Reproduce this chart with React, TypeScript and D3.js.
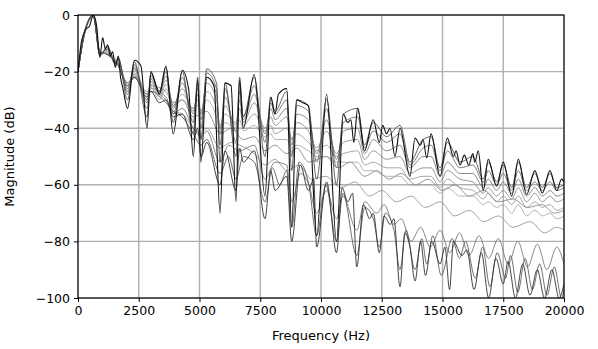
import React, { useEffect, useRef } from 'react';
import * as d3 from 'd3';

const xTicks = [0, 2500, 5000, 7500, 10000, 12500, 15000, 17500, 20000];
const yTicks = [0, -20, -40, -60, -80, -100];

// darkest spectrum, read peak by peak / notch by notch
const topLine = [
  [0, -20], [150, -9], [330, -5], [470, -4], [630, 0], [770, -4], [900, -15], [1015, -8], [1125, -12],
  [1220, -10.5], [1330, -14.5], [1425, -13], [1535, -18.5], [1660, -14.5], [1750, -22], [1850, -26],
  [2040, -33], [2320, -16], [2590, -18], [2840, -40], [3000, -20], [3210, -25], [3350, -28], [3620, -18],
  [3920, -42], [4290, -19.5], [4550, -26], [4745, -50], [4925, -23], [5060, -52], [5300, -22], [5600, -25],
  [5845, -70], [6050, -24], [6300, -25], [6500, -66], [6650, -23], [6800, -40], [7255, -21], [7695, -64],
  [7930, -29], [8110, -35], [8245, -28], [8590, -26], [8795, -75], [9000, -30], [9250, -31], [9480, -32],
  [9820, -78], [10230, -28], [10640, -80], [10920, -35], [11100, -38], [11230, -37], [11350, -45],
  [11510, -33], [11790, -48], [12150, -37], [12400, -45], [12540, -39], [12700, -42], [12840, -40],
  [13045, -50], [13250, -40], [13660, -57], [13870, -43.5], [14090, -46], [14200, -44], [14350, -50.5],
  [14530, -42], [14900, -57], [15200, -43.5], [15450, -50], [15560, -48], [15720, -53], [15900, -49.5],
  [16080, -53], [16250, -49], [16330, -52], [16470, -48], [16680, -62], [16880, -51], [17230, -60.5],
  [17500, -52], [17850, -64], [18120, -51], [18460, -63.5], [18800, -55], [19110, -63], [19420, -55],
  [19700, -62], [19900, -58], [20000, -59],
];

// the fan of lighter spectra under the top one share these frequencies
const fanFreqs = [
  0, 300, 630, 900, 1220, 1535, 1660, 2040, 2320, 2840, 3000, 3350, 3620, 3920, 4290, 4745, 4925, 5060,
  5300, 5700, 5845, 6050, 6500, 6650, 6800, 7255, 7695, 7930, 8110, 8590, 8795, 9000, 9480, 9820, 10230,
  10640, 10920, 11510, 11790, 12150, 12700, 13250, 13660, 14200, 14530, 14900, 15200, 15720, 16250,
  16680, 16880, 17230, 17500, 17850, 18120, 18460, 18800, 19110, 19420, 19700, 20000,
];
const fan1 = [-20, -5, 0, -14.5, -11, -17.5, -15, -30, -16.5, -36, -20.5, -27, -18.5, -38, -20, -42, -22, -44, -19, -24, -52, -24, -50, -22, -36, -22, -50, -29, -34, -27, -55, -30, -32, -58, -29.5, -60, -35, -33, -46, -38, -43, -39, -52, -44, -43, -54, -45, -52, -50, -58, -52, -59, -53, -61, -52, -61, -56, -61, -56, -61, -60];
const fan2 = [-20, -5, 0, -14, -11.5, -17, -15.5, -28, -17.5, -33, -21.5, -27, -20, -35, -22, -38, -24, -40, -20.5, -26, -46, -26, -45, -24, -36, -25, -45, -31, -35, -30, -50, -32, -34, -52, -33, -54, -38, -36, -47, -41, -45, -42, -53, -47, -46, -55, -48, -54, -53, -59, -55, -60, -56, -62, -55, -62, -59, -62, -59, -62, -61];
const fan3 = [-20, -5.5, -0.5, -14, -12, -17, -16, -27, -18.5, -31, -22.5, -27.5, -21.5, -33, -24, -35, -26, -37, -22, -28, -42, -29, -41, -27, -37, -28, -42, -33, -37, -33, -46, -35, -37, -49, -37, -51, -41, -40, -49, -44, -48, -46, -54, -50, -50, -57, -52, -56, -56, -61, -58, -62, -59, -63, -58, -64, -61, -64, -62, -64, -63];
const fan4 = [-20, -5.5, -0.5, -13.5, -12.5, -17, -17, -26, -19.5, -30, -23.5, -28, -23, -32, -26, -34, -28, -35, -24, -30, -40, -32, -39, -30, -38, -31, -40, -36, -39, -36, -44, -38, -41, -47, -41, -49, -45, -44, -51, -48, -51, -50, -56, -54, -54, -59, -55, -58, -59, -63, -61, -64, -62, -65, -61, -66, -63, -66, -64, -66, -65];
const fan5 = [-20, -5.5, -0.5, -13.5, -13, -17, -17.5, -25, -20.5, -29, -24.5, -29, -24.5, -31, -28, -33, -30, -34, -27, -33, -39, -35, -38, -33, -39, -35, -41, -39, -42, -40, -44, -42, -45, -48, -46, -50, -49, -48, -53, -52, -54, -54, -58, -57, -57, -61, -58, -61, -62, -65, -63, -66, -64, -67, -64, -68, -66, -68, -67, -69, -68];
const fan6 = [-20, -5.5, -0.5, -13.5, -13.5, -17.5, -18, -24, -21.5, -28, -25.5, -30, -26, -31, -30, -33, -32, -34, -30, -36, -40, -38, -40, -37, -41, -39, -43, -42, -44, -44, -47, -46, -48, -50, -50, -52, -52, -52, -55, -55, -57, -57, -60, -60, -60, -63, -61, -64, -64, -67, -66, -68, -67, -70, -67, -71, -69, -71, -70, -72, -71];

// smoother spectra in the middle
const wave1 = [
  [0, -20], [300, -5], [630, 0], [900, -13.5], [1220, -12], [1535, -17], [1660, -17], [2040, -25], [2320, -19],
  [2840, -28], [3000, -25], [3620, -27], [3920, -32], [4290, -30], [4745, -36], [5300, -34], [5845, -42],
  [6300, -40], [6800, -44], [7255, -43], [7700, -48], [8100, -46], [8600, -49], [9000, -47], [9500, -52],
  [10200, -50], [10700, -54], [11200, -52], [11800, -57], [12300, -55], [12800, -58], [13300, -56],
  [13900, -60], [14400, -58], [15000, -62], [15500, -60], [16100, -64], [16700, -62], [17300, -66],
  [17900, -65], [18500, -68], [19100, -67], [19600, -70], [20000, -69],
];
const wave2 = [
  [0, -20], [300, -5.5], [630, -0.5], [900, -13], [1220, -14], [1660, -18], [2040, -24], [2320, -22], [2840, -27],
  [3000, -27], [3620, -30], [3920, -34], [4290, -35], [4745, -40], [5060, -42], [5300, -40], [5845, -47],
  [6300, -45], [6650, -46], [7255, -49], [7700, -53], [8100, -51], [8600, -55], [9100, -53], [9600, -58],
  [10200, -57], [10800, -61], [11400, -59], [12000, -64], [12500, -62], [13100, -66], [13700, -64],
  [14300, -68], [14900, -66], [15500, -71], [16100, -69], [16700, -73], [17300, -71], [17900, -75],
  [18600, -73], [19200, -77], [19700, -75], [20000, -76],
];

// the low, deeply notched spectra
const low1 = [
  [0, -20], [300, -5.5], [630, -0.5], [900, -13], [1220, -14], [1660, -18], [2040, -25], [2320, -22], [2840, -29],
  [3000, -27], [3350, -31], [3620, -30], [3920, -36], [4290, -35], [4745, -44], [4925, -40], [5060, -50],
  [5300, -45], [5845, -60], [6050, -48], [6500, -62], [6650, -47], [6800, -52], [7255, -48], [7695, -72],
  [7930, -55], [8110, -62], [8590, -57], [8795, -80], [9150, -53], [9480, -62], [9700, -58], [9820, -82],
  [10230, -59], [10640, -84], [10870, -61], [11100, -66], [11300, -63], [11470, -89], [11750, -67],
  [12000, -72], [12150, -70], [12400, -84], [12600, -71], [12850, -74], [13000, -72], [13250, -96],
  [13450, -77], [13660, -82], [13870, -94], [14100, -80], [14300, -92], [14560, -80], [14900, -88],
  [15100, -82], [15290, -97], [15450, -80], [15800, -85], [16000, -83], [16300, -97], [16600, -84],
  [16900, -100], [17200, -86], [17500, -95], [17700, -87], [18000, -100], [18300, -88], [18600, -99],
  [18900, -90], [19200, -100], [19500, -90], [19800, -100], [20000, -95],
];
const low2 = [
  [0, -20], [300, -5.5], [630, -0.5], [900, -13], [1220, -14], [1660, -18], [2040, -24], [2320, -22], [2840, -28],
  [3000, -27], [3620, -31], [3920, -34], [4290, -36], [4745, -42], [5060, -46], [5300, -44], [5845, -56],
  [6200, -50], [6500, -58], [6800, -50], [7255, -52], [7695, -66], [8000, -54], [8300, -60], [8590, -55],
  [8795, -75], [9100, -52], [9500, -60], [9820, -78], [10200, -60], [10640, -80], [10900, -63], [11470, -85],
  [11800, -68], [12150, -72], [12400, -82], [12650, -70], [13000, -76], [13250, -90], [13500, -76],
  [13870, -90], [14150, -79], [14350, -88], [14600, -78], [14950, -92], [15400, -79], [15700, -86],
  [15950, -80], [16350, -93], [16650, -82], [16950, -96], [17250, -84], [17600, -93], [17800, -85],
  [18100, -98], [18400, -86], [18700, -97], [19000, -88], [19300, -99], [19600, -89], [19900, -100], [20000, -97],
];
const low3 = [
  [0, -20], [300, -5], [630, -0.5], [900, -13.5], [1220, -13.5], [1660, -17.5], [2040, -26], [2320, -21],
  [2840, -30], [3000, -26], [3620, -29], [3920, -35], [4290, -33], [4745, -40], [5060, -43], [5300, -41],
  [5845, -52], [6200, -46], [6650, -48], [7255, -46], [7695, -58], [8100, -52], [8590, -53], [8795, -66],
  [9150, -56], [9500, -60], [9820, -70], [10230, -62], [10640, -72], [10900, -64], [11470, -76], [11800, -66],
  [12300, -70], [12600, -67], [13000, -74], [13300, -72], [13700, -80], [14100, -75], [14500, -82],
  [14900, -76], [15300, -84], [15700, -77], [16100, -85], [16500, -78], [16900, -86], [17300, -79],
  [17700, -88], [18100, -80], [18500, -89], [18900, -81], [19300, -90], [19700, -82], [20000, -88],
];

const fans = [fan6, fan5, fan4, fan3, fan2, fan1];
const fanColors = ['#a0a0a0', '#909090', '#808080', '#6e6e6e', '#5a5a5a', '#404040'];

const fmtY = (d: number) => (d < 0 ? '\u2212' + Math.abs(d) : String(d));

export default function App() {
  const ref = useRef<SVGSVGElement>(null);

  useEffect(() => {
    const svg = d3.select(ref.current);
    svg.selectAll('*').remove();

    const left = 78, right = 564, top = 15, bottom = 298;
    const x = d3.scaleLinear().domain([0, 20000]).range([left, right]);
    const y = d3.scaleLinear().domain([-100, 0]).range([bottom, top]);

    svg.append('rect').attr('width', 598).attr('height', 349).attr('fill', 'white');

    // grid
    const grid = svg.append('g').attr('stroke', '#b0b0b0').attr('stroke-width', 1.4);
    grid.selectAll('line.gx').data(xTicks).join('line')
      .attr('x1', d => x(d)).attr('x2', d => x(d)).attr('y1', top).attr('y2', bottom);
    grid.selectAll('line.gy').data(yTicks).join('line')
      .attr('x1', left).attr('x2', right).attr('y1', d => y(d)).attr('y2', d => y(d));

    svg.append('clipPath').attr('id', 'plotclip').append('rect')
      .attr('x', left).attr('y', top).attr('width', right - left).attr('height', bottom - top);

    const line = d3.line<number[]>().x(d => x(d[0])).y(d => y(d[1])).curve(d3.curveMonotoneX);
    const plot = svg.append('g').attr('clip-path', 'url(#plotclip)').attr('fill', 'none');

    const series: { pts: number[][]; color: string; w: number }[] = [
      { pts: wave2, color: '#8c8c8c', w: 0.8 },
      { pts: wave1, color: '#7a7a7a', w: 0.8 },
      { pts: low3, color: '#6a6a6a', w: 0.8 },
      { pts: low2, color: '#4a4a4a', w: 0.8 },
      { pts: low1, color: '#2e2e2e', w: 0.9 },
    ];
    fans.forEach((vals, i) => {
      series.push({ pts: fanFreqs.map((f, j) => [f, vals[j]]), color: fanColors[i], w: 0.8 });
    });
    series.push({ pts: topLine, color: '#111111', w: 1.1 });

    plot.selectAll('path').data(series).join('path')
      .attr('d', d => line(d.pts))
      .attr('stroke', d => d.color)
      .attr('stroke-width', d => d.w)
      .attr('stroke-linejoin', 'round');

    // axes
    const font = 'DejaVu Sans, sans-serif';
    const xAxis = svg.append('g').attr('transform', `translate(0,${bottom})`)
      .call(d3.axisBottom(x).tickValues(xTicks).tickSize(4).tickSizeOuter(0).tickPadding(4).tickFormat(d => String(d)));
    const yAxis = svg.append('g').attr('transform', `translate(${left},0)`)
      .call(d3.axisLeft(y).tickValues(yTicks).tickSize(4).tickSizeOuter(0).tickPadding(4).tickFormat(d => fmtY(+d)));
    [xAxis, yAxis].forEach(a => {
      a.select('.domain').remove();
      a.selectAll('text').attr('font-family', font).attr('font-size', 12.5).attr('fill', '#000');
      a.selectAll('line').attr('stroke', '#000').attr('stroke-width', 1);
    });

    svg.append('rect').attr('x', left).attr('y', top).attr('width', right - left).attr('height', bottom - top)
      .attr('fill', 'none').attr('stroke', '#000').attr('stroke-width', 1.1);

    svg.append('text').attr('x', (left + right) / 2).attr('y', 340).attr('text-anchor', 'middle')
      .attr('font-family', font).attr('font-size', 13).text('Frequency (Hz)');
    svg.append('text').attr('transform', `translate(14,${(top + bottom) / 2}) rotate(-90)`)
      .attr('text-anchor', 'middle').attr('font-family', font).attr('font-size', 13).text('Magnitude (dB)');
  });

  return (
    <div>
      <svg ref={ref} width={598} height={349} style={{ position: 'absolute', left: 0, top: 0 }}></svg>
    </div>
  );
}
